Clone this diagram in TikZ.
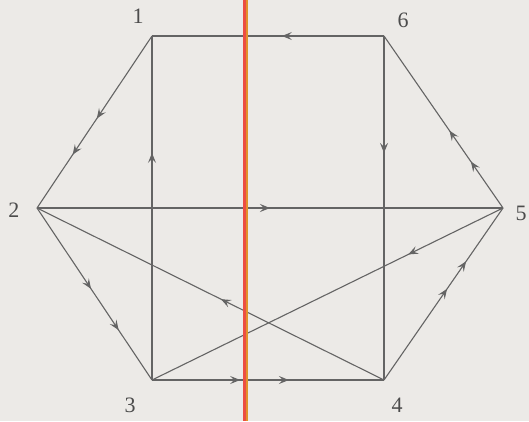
\documentclass[tikz,border=0pt]{standalone}
\usepackage{fontspec}
\setmainfont{Liberation Serif}
\usetikzlibrary{arrows.meta,decorations.markings}
\definecolor{paper}{RGB}{236,234,231}
\definecolor{edgegray}{RGB}{100,100,100}
\definecolor{rulered}{RGB}{236,78,66}
\definecolor{ruleorange}{RGB}{226,146,42}
\begin{document}
\begin{tikzpicture}[x=1pt, y=-1pt,
edge/.style={draw=edgegray, line width=1.1pt},
flow/.style={postaction={decorate, decoration={markings, mark=at position #1 with {\arrow{Stealth[length=10pt,width=8pt,inset=4pt]}}}}},
vlabel/.style={text=black!70, font=\fontsize{22}{24}\selectfont, inner sep=0pt},
]
    \fill[paper] (0,0) rectangle (529,421);
    \useasboundingbox (0,0) rectangle (529,421);
    % vertices of the hexagon
    \coordinate (v1) at (152,36);
    \coordinate (v2) at (37,208);
    \coordinate (v3) at (152,380);
    \coordinate (v4) at (384,380);
    \coordinate (v5) at (503,208);
    \coordinate (v6) at (384,36);
    \node[vlabel] (l1) at (138,16) {1};
    \node[vlabel] (l2) at (14,210) {2};
    \node[vlabel] (l3) at (130,405) {3};
    \node[vlabel] (l4) at (397,405) {4};
    \node[vlabel] (l5) at (521,213) {5};
    \node[vlabel] (l6) at (403,20) {6};
    % outer edges
    \draw[edge, flow=0.44] (v6) -- (v1);
    \draw[edge, flow=0.48, flow=0.69] (v1) -- (v2);
    \draw[edge, flow=0.47, flow=0.71] (v2) -- (v3);
    \draw[edge, flow=0.38, flow=0.59] (v3) -- (v4);
    \draw[edge, flow=0.53, flow=0.69] (v4) -- (v5);
    \draw[edge, flow=0.27, flow=0.45] (v5) -- (v6);
    % inner edges
    \draw[edge, flow=0.66] (v3) -- (v1);
    \draw[edge, flow=0.34] (v6) -- (v4);
    \draw[edge, flow=0.50] (v2) -- (v5);
    \draw[edge, flow=0.47] (v4) -- (v2);
    \draw[edge, flow=0.27] (v5) -- (v3);
    % red rule
    \draw[rulered, line width=3pt] (244,0) -- (244,421);
    \draw[ruleorange, line width=2pt] (246.5,0) -- (246.5,421);
\end{tikzpicture}
\end{document}
